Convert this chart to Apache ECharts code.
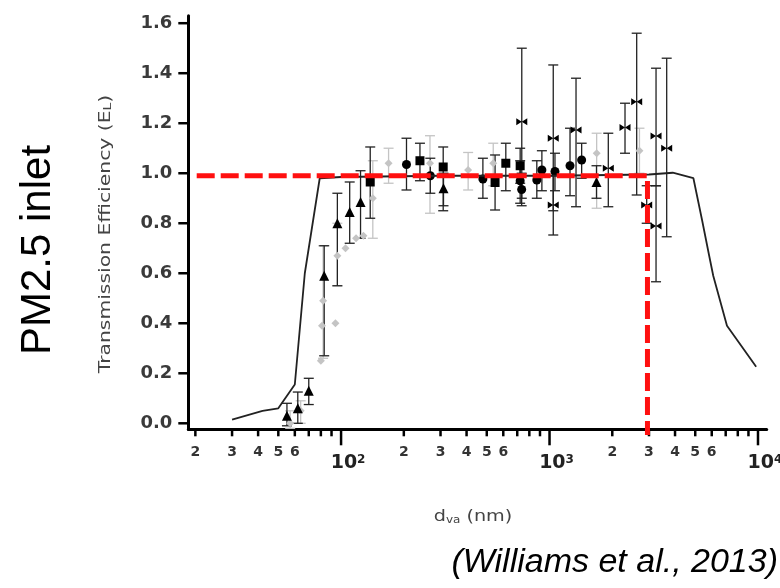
<!DOCTYPE html>
<html><head><meta charset="utf-8">
<script src="https://cdn.jsdelivr.net/npm/echarts@6/dist/echarts.min.js"></script>
<style>html,body{margin:0;padding:0;background:#fff}#c{width:780px;height:588px}</style>
</head><body><div id="c"></div>
<script>
// ---- axis ranges & ticks ----
const X_MIN = 18.5, X_MAX = 11010;
const Y_MIN = -0.024, Y_MAX = 1.63;
const xTickValues = [20,30,40,50,60,70,80,90,100,200,300,400,500,600,700,800,900,1000,2000,3000,4000,5000,6000,7000,8000,9000,10000];
const xTickLabels = ['2','3','4','5','6','','','','10^2','2','3','4','5','6','','','','10^3','2','3','4','5','6','','','','10^4'];
const yTickValues = [0,0.2,0.4,0.6,0.8,1.0,1.2,1.4,1.6];
const yTickLabels = ['0.0','0.2','0.4','0.6','0.8','1.0','1.2','1.4','1.6'];

// ---- model curve ----
const curveX = [30, 42, 50, 60, 67, 79, 100, 300, 1000, 3000, 3900, 4900, 5400, 5800, 6100, 7100, 9800];
const curveY = [0.015, 0.05, 0.06, 0.155, 0.60, 0.98, 0.985, 0.99, 0.99, 0.995, 1.002, 0.98, 0.81, 0.68, 0.59, 0.39, 0.226];

// ---- red reference (PM2.5 cut) ----
const refX = [20.3, 2950, 2950];
const refY = [0.99, 0.99, -0.047];

// ---- measurements: [d, E, low, high] ----
const triangles = [
  [55, 0.03, -0.01, 0.08],
  [62, 0.06, 0.0, 0.125],
  [70, 0.13, 0.075, 0.18],
  [83, 0.59, 0.27, 0.71],
  [96, 0.80, 0.55, 0.92],
  [110, 0.845, 0.72, 0.965],
  [124, 0.885, 0.74, 1.01],
  [310, 0.94, 0.87, 1.0],
  [1680, 0.965, 0.9, 1.03]
];
const squares = [
  [138, 0.965, 0.82, 1.105],
  [239, 1.05, 0.97, 1.12],
  [309, 1.025, 0.85, 1.105],
  [548, 0.963, 0.853, 1.073],
  [617, 1.04, 0.93, 1.12],
  [723, 1.03, 0.96, 1.1]
];
const circles = [
  [206, 1.035, 0.933, 1.14],
  [268, 0.99, 0.92, 1.06],
  [479, 0.977, 0.9, 1.06],
  [723, 0.97, 0.88, 1.05],
  [735, 0.935, 0.87, 1.0],
  [869, 0.973, 0.9, 1.05],
  [919, 1.013, 0.93, 1.09],
  [1062, 1.007, 0.93, 1.08],
  [1254, 1.03, 0.91, 1.18],
  [1426, 1.053, 0.98, 1.12]
];
const greys = [
  [57, 0.0, -0.02, 0.05],
  [64, 0.05, 0.0, 0.09],
  [80, 0.25, 0.25, 0.25],
  [81, 0.39, 0.39, 0.39],
  [82, 0.49, 0.26, 0.71],
  [94, 0.40, 0.40, 0.40],
  [96, 0.67, 0.55, 0.80],
  [105, 0.70, 0.70, 0.70],
  [118, 0.74, 0.74, 0.74],
  [128, 0.75, 0.75, 0.75],
  [142, 0.90, 0.74, 1.05],
  [169, 1.04, 0.96, 1.10],
  [267, 1.04, 0.84, 1.15],
  [407, 1.013, 0.933, 1.083],
  [537, 1.04, 0.95, 1.12],
  [1683, 1.08, 0.86, 1.16],
  [2700, 1.09, 1.0, 1.18]
];
const bowties = [
  [736, 1.206, 0.90, 1.50],
  [1042, 1.14, 0.85, 1.433],
  [1042, 0.873, 0.753, 0.99],
  [1340, 1.173, 0.866, 1.38],
  [1914, 1.02, 0.866, 1.16],
  [2302, 1.183, 1.08, 1.28],
  [2619, 1.286, 0.913, 1.56],
  [2925, 0.873, 0.80, 0.95],
  [3243, 1.149, 0.95, 1.42],
  [3243, 0.789, 0.566, 0.95],
  [3648, 1.10, 0.746, 1.46]
];

const FONT = '"DejaVu Sans", Verdana, sans-serif';
const BOWTIE = 'path://M0,0L10,5L0,10ZM20,0L10,5L20,10Z';

function errBars(arr, color) {
  return {
    type: 'custom', coordinateSystem: 'cartesian2d', clip: false, silent: true, z: 2,
    data: arr.filter(d => d[3] > d[2]).map(d => [d[0], d[2], d[3]]),
    renderItem(params, api) {
      const x = api.value(0);
      const a = api.coord([x, api.value(1)]);
      const b = api.coord([x, api.value(2)]);
      const w = 5, st = { stroke: color, lineWidth: 1.3 };
      return { type: 'group', children: [
        { type: 'line', shape: { x1: a[0], y1: a[1], x2: b[0], y2: b[1] }, style: st },
        { type: 'line', shape: { x1: a[0] - w, y1: a[1], x2: a[0] + w, y2: a[1] }, style: st },
        { type: 'line', shape: { x1: b[0] - w, y1: b[1], x2: b[0] + w, y2: b[1] }, style: st }
      ]};
    }
  };
}
function markers(arr, symbol, size, color) {
  return { type: 'scatter', symbol, symbolSize: size, z: 3, silent: true,
    itemStyle: { color, opacity: 1 }, data: arr.map(d => [d[0], d[1]]) };
}

const chart = echarts.init(document.getElementById('c'), null, { renderer: 'canvas' });
chart.setOption({
  animation: false,
  backgroundColor: '#fff',
  grid: { left: 188.3, top: 15.7, right: 13.3, bottom: 158.7, containLabel: false },
  xAxis: {
    type: 'log', logBase: 10, min: X_MIN, max: X_MAX,
    axisLine: { onZero: false, lineStyle: { color: '#000', width: 3 } },
    axisTick: { show: false }, axisLabel: { show: false }, splitLine: { show: false }
  },
  yAxis: {
    type: 'value', min: Y_MIN, max: Y_MAX,
    axisLine: { show: true, onZero: false, lineStyle: { color: '#000', width: 3 } },
    axisTick: { show: false }, axisLabel: { show: false }, splitLine: { show: false }
  },
  graphic: [
    { type: 'text', x: 38, y: 250, rotation: Math.PI / 2,
      style: { text: 'PM2.5 inlet', font: '42px "Liberation Sans", Arial, sans-serif', fill: '#000', align: 'center', verticalAlign: 'middle' } },
    { type: 'text', x: 106, y: 234, rotation: Math.PI / 2, scaleX: 1.27,
      style: { text: 'Transmission Efficiency (E{sub|L})', fontFamily: 'DejaVu Sans', fontSize: 16, fill: '#444', align: 'center', verticalAlign: 'middle',
        rich: { sub: { fontFamily: 'DejaVu Sans', fontSize: 11, fill: '#444', verticalAlign: 'bottom' } } } },
    { type: 'text', x: 473, y: 517, scaleX: 1.2,
      style: { text: 'd{sub|va} (nm)', fontFamily: 'DejaVu Sans', fontSize: 16, fill: '#444', align: 'center', verticalAlign: 'middle',
        rich: { sub: { fontFamily: 'DejaVu Sans', fontSize: 10, fill: '#444', verticalAlign: 'bottom' } } } },
    { type: 'text', x: 778, y: 563,
      style: { text: '(Williams et al., 2013)', font: 'italic 34px "Liberation Sans", Arial, sans-serif', fill: '#000', align: 'right', verticalAlign: 'middle' } }
  ],
  series: [
    // x ticks + labels
    { type: 'custom', coordinateSystem: 'cartesian2d', clip: false, silent: true, z: 6,
      data: xTickValues.map((v, i) => [v, Y_MIN, i]),
      renderItem(params, api) {
        const i = api.value(2);
        const p = api.coord([api.value(0), Y_MIN]);
        const lab = xTickLabels[i];
        const major = lab.indexOf('^') > 0;
        const ch = [{ type: 'line', shape: { x1: p[0], y1: p[1], x2: p[0], y2: p[1] + (major ? 16 : 7) }, style: { stroke: '#000', lineWidth: 2.5 } }];
        if (lab && !major) {
          ch.push({ type: 'text', style: { text: lab, x: p[0], y: p[1] + 23, align: 'center', verticalAlign: 'middle',
            fontFamily: FONT, fontWeight: 'bold', fontSize: 14, fill: '#333' } });
        } else if (major) {
          const ex = lab.split('^')[1];
          ch.push({ type: 'text', style: { text: '{b|10}{s|' + ex + '}', x: p[0] + 7, y: p[1] + 34, align: 'center', verticalAlign: 'middle',
            rich: { b: { fontFamily: FONT, fontWeight: 'bold', fontSize: 19, fill: '#222' },
                    s: { fontFamily: FONT, fontWeight: 'bold', fontSize: 12, fill: '#222', verticalAlign: 'top' } } } });
        }
        return { type: 'group', children: ch };
      }
    },
    // y ticks + labels
    { type: 'custom', coordinateSystem: 'cartesian2d', clip: false, silent: true, z: 6,
      data: yTickValues.map((v, i) => [X_MIN, v, i]),
      renderItem(params, api) {
        const i = api.value(2);
        const p = api.coord([X_MIN, api.value(1)]);
        return { type: 'group', children: [
          { type: 'line', shape: { x1: p[0] - 10, y1: p[1], x2: p[0], y2: p[1] }, style: { stroke: '#000', lineWidth: 2.5 } },
          { type: 'text', style: { text: yTickLabels[i], x: p[0] - 16, y: p[1], align: 'right', verticalAlign: 'middle',
            fontFamily: FONT, fontWeight: 'bold', fontSize: 18, fill: '#3a3a3a' } }
        ]};
      }
    },
    errBars(greys, '#c4c4c4'),
    errBars(triangles, '#222'),
    errBars(squares, '#222'),
    errBars(circles, '#222'),
    errBars(bowties, '#222'),
    markers(greys, 'diamond', 8, '#c4c4c4'),
    markers(triangles, 'triangle', 10, '#000'),
    markers(squares, 'rect', 9, '#000'),
    markers(circles, 'circle', 9, '#000'),
    markers(bowties, BOWTIE, [11, 7], '#000'),
    { type: 'line', z: 4, silent: true, symbol: 'none', smooth: false, clip: false,
      lineStyle: { color: '#222', width: 1.8 },
      data: curveX.map((x, i) => [x, curveY[i]]) },
    { type: 'line', z: 10, silent: true, symbol: 'none', smooth: false, clip: false,
      lineStyle: { color: '#ff1010', width: 5, type: [18, 6] },
      data: refX.map((x, i) => [x, refY[i]]) }
  ]
});
</script></body></html>
